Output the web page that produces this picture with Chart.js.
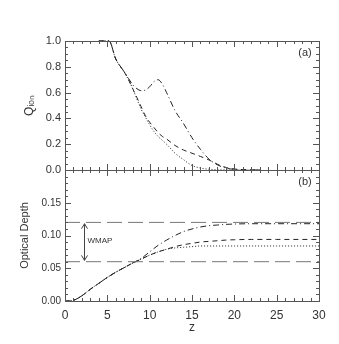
<!DOCTYPE html>
<html>
<head>
<meta charset="utf-8">
<script src="https://cdn.jsdelivr.net/npm/chart.js@4.4.0/dist/chart.umd.min.js"></script>
<style>
  html, body { margin: 0; padding: 0; background: #fff; }
  #wrap { position: relative; width: 339px; height: 344px; }
  canvas { position: absolute; left: 0; top: 0; }
</style>
</head>
<body>
<div id="wrap">
  <canvas id="qionChart" width="339" height="344"></canvas>
  <canvas id="tauChart" width="339" height="344"></canvas>
</div>
<script>
// panel (a): ionised fraction vs redshift
const zQ = [4, 5.2, 6, 7, 7.5, 8, 8.5, 9, 9.5, 10, 10.5, 11, 11.5, 12, 13, 14, 15, 16, 17, 18, 19, 20, 21, 22, 23];
const qDotted = [1, 1, 0.86, 0.76, 0.70, 0.63, 0.55, 0.47, 0.41, 0.35, 0.30, 0.26, 0.23, 0.20, 0.13, 0.08, 0.035, 0.015, 0.006, 0.002, 0.001, 0, 0, 0, 0];
const qDashed = [1, 1, 0.86, 0.76, 0.70, 0.63, 0.56, 0.49, 0.42, 0.37, 0.33, 0.29, 0.26, 0.24, 0.19, 0.155, 0.13, 0.105, 0.078, 0.045, 0.02, 0.008, 0.003, 0.001, 0];
const qDashDot = [1, 1, 0.86, 0.76, 0.71, 0.66, 0.63, 0.615, 0.62, 0.645, 0.685, 0.70, 0.665, 0.60, 0.46, 0.36, 0.25, 0.16, 0.085, 0.04, 0.015, 0.005, 0.001, 0, 0];

// panel (b): optical depth vs redshift
const zT = [0, 0.5, 1, 2, 3, 4, 5, 6, 7, 8, 9, 10, 11, 12, 13, 14, 15, 16, 17, 18, 19, 20, 22, 25, 30];
const tDotted = [0, 0, 0.001, 0.008, 0.018, 0.027, 0.036, 0.044, 0.051, 0.058, 0.064, 0.070, 0.075, 0.079, 0.081, 0.082, 0.083, 0.084, 0.084, 0.084, 0.084, 0.084, 0.084, 0.084, 0.084];
const tDashed = [0, 0, 0.001, 0.008, 0.018, 0.027, 0.036, 0.044, 0.051, 0.058, 0.064, 0.070, 0.075, 0.079, 0.083, 0.086, 0.088, 0.090, 0.091, 0.092, 0.093, 0.0935, 0.094, 0.094, 0.094];
const tDashDot = [0, 0, 0.001, 0.008, 0.018, 0.027, 0.036, 0.044, 0.051, 0.058, 0.065, 0.075, 0.085, 0.093, 0.100, 0.106, 0.110, 0.113, 0.115, 0.116, 0.117, 0.1175, 0.118, 0.118, 0.118];

// WMAP range
const wmapZ = [0, 30];
const wmapLow = [0.06, 0.06];
const wmapHigh = [0.12, 0.12];

const xTicks = [0, 5, 10, 15, 20, 25, 30];

const pts = (xs, ys) => xs.map((x, i) => ({ x: x, y: ys[i] }));
const ink = "#222";

function curve(data, dash) {
  return {
    data: data,
    borderColor: ink,
    borderWidth: 1,
    borderDash: dash,
    pointRadius: 0,
    clip: 2,
    cubicInterpolationMode: "monotone",
  };
}

// box, inward ticks and annotations drawn with the chart's scales
const frame = {
  id: "frame",
  afterDraw(chart, args, opts) {
    const { ctx, chartArea: a } = chart;
    const x = chart.scales.x, y = chart.scales.y;
    ctx.save();
    ctx.strokeStyle = "#555";
    ctx.lineWidth = 1;
    ctx.strokeRect(a.left + 0.5, a.top + 0.5, a.right - a.left, a.bottom - a.top);
    ctx.beginPath();
    for (let v = 0; v <= 30; v++) {
      const px = Math.round(x.getPixelForValue(v)) + 0.5;
      const len = v % 5 === 0 ? 6 : 3;
      ctx.moveTo(px, a.bottom); ctx.lineTo(px, a.bottom - len);
      ctx.moveTo(px, a.top); ctx.lineTo(px, a.top + len);
    }
    const n = Math.round((y.max - y.min) / opts.yMinor);
    for (let i = 0; i <= n; i++) {
      const py = Math.round(y.getPixelForValue(y.min + i * opts.yMinor)) + 0.5;
      const len = i % opts.yPer === 0 ? 6 : 3;
      ctx.moveTo(a.left, py); ctx.lineTo(a.left + len, py);
      ctx.moveTo(a.right, py); ctx.lineTo(a.right - len, py);
    }
    ctx.stroke();

    ctx.fillStyle = "#333";
    ctx.font = "11px 'Liberation Sans'";
    ctx.textAlign = "center";
    ctx.textBaseline = "middle";
    ctx.fillText(opts.tag, a.right - 14, a.top + 12);

    if (opts.wmap) {
      const ax = Math.round(x.getPixelForValue(2.3)) + 0.5;
      const y1 = y.getPixelForValue(0.118), y2 = y.getPixelForValue(0.062);
      ctx.strokeStyle = "#444";
      ctx.beginPath();
      ctx.moveTo(ax, y1); ctx.lineTo(ax, y2);
      ctx.moveTo(ax - 3, y1 + 5); ctx.lineTo(ax, y1); ctx.lineTo(ax + 3, y1 + 5);
      ctx.moveTo(ax - 3, y2 - 5); ctx.lineTo(ax, y2); ctx.lineTo(ax + 3, y2 - 5);
      ctx.stroke();
      ctx.font = "8px 'Liberation Sans'";
      ctx.textAlign = "left";
      ctx.fillText("WMAP", ax + 3, y.getPixelForValue(0.092));
    }
    ctx.restore();
  },
};

const noGrid = { display: false, drawTicks: false };
const yTickFont = (size) => ({ family: "'Liberation Sans'", size: size });

new Chart(document.getElementById("qionChart").getContext("2d"), {
  type: "line",
  data: {
    datasets: [
      curve(pts(zQ, qDotted), [1, 2]),
      curve(pts(zQ, qDashed), [5, 4]),
      curve(pts(zQ, qDashDot), [6, 3, 1, 3]),
    ],
  },
  options: {
    responsive: false,
    animation: false,
    events: [],
    layout: { padding: { top: 41, right: 20, bottom: 174, left: 0 } },
    plugins: {
      legend: { display: false },
      tooltip: { enabled: false },
      frame: { yMinor: 0.05, yPer: 4, tag: "(a)" },
    },
    scales: {
      x: { type: "linear", min: 0, max: 30, display: false },
      y: {
        min: 0,
        max: 1,
        afterFit: (s) => { s.width = 65; },
        grid: noGrid,
        border: { display: false },
        ticks: {
          stepSize: 0.2,
          padding: 4,
          color: "#333",
          font: yTickFont(11),
          callback: (v) => v.toFixed(1),
        },
        title: {
          display: true,
          text: "Qᵢₒₙ",
          color: "#333",
          font: { family: "'Liberation Sans'", size: 12 },
          padding: { top: 22, bottom: 0 },
        },
      },
    },
  },
  plugins: [frame],
});

new Chart(document.getElementById("tauChart").getContext("2d"), {
  type: "line",
  data: {
    datasets: [
      {
        data: pts(wmapZ, wmapHigh),
        borderColor: "#777",
        borderWidth: 1,
        borderDash: [15, 6],
        pointRadius: 0,
      },
      {
        data: pts(wmapZ, wmapLow),
        borderColor: "#777",
        borderWidth: 1,
        borderDash: [15, 6],
        pointRadius: 0,
      },
      curve(pts(zT, tDotted), [1, 2]),
      curve(pts(zT, tDashed), [5, 4]),
      curve(pts(zT, tDashDot), [6, 3, 1, 3]),
    ],
  },
  options: {
    responsive: false,
    animation: false,
    events: [],
    layout: { padding: { top: 170, right: 20, bottom: 0, left: 0 } },
    plugins: {
      legend: { display: false },
      tooltip: { enabled: false },
      frame: { yMinor: 0.01, yPer: 5, tag: "(b)", wmap: true },
    },
    scales: {
      x: {
        type: "linear",
        min: 0,
        max: 30,
        afterFit: (s) => { s.height = 43; },
        afterBuildTicks: (s) => { s.ticks = xTicks.map((v) => ({ value: v })); },
        grid: noGrid,
        border: { display: false },
        ticks: {
          padding: 7,
          maxRotation: 0,
          autoSkip: false,
          color: "#333",
          font: { family: "'Liberation Sans'", size: 12 },
        },
        title: {
          display: true,
          text: "z",
          color: "#333",
          font: { family: "'Liberation Sans'", size: 12 },
          padding: { top: 0, bottom: 9 },
        },
      },
      y: {
        min: 0,
        max: 0.2,
        afterFit: (s) => { s.width = 65; },
        grid: noGrid,
        border: { display: false },
        ticks: {
          stepSize: 0.05,
          padding: 4,
          color: "#333",
          font: yTickFont(10),
          callback: (v) => (v > 0.19 ? "" : v.toFixed(2)),
        },
        title: {
          display: true,
          text: "Optical Depth",
          color: "#333",
          font: { family: "'Liberation Sans'", size: 11 },
          padding: { top: 18, bottom: 0 },
        },
      },
    },
  },
  plugins: [frame],
});
</script>
</body>
</html>
